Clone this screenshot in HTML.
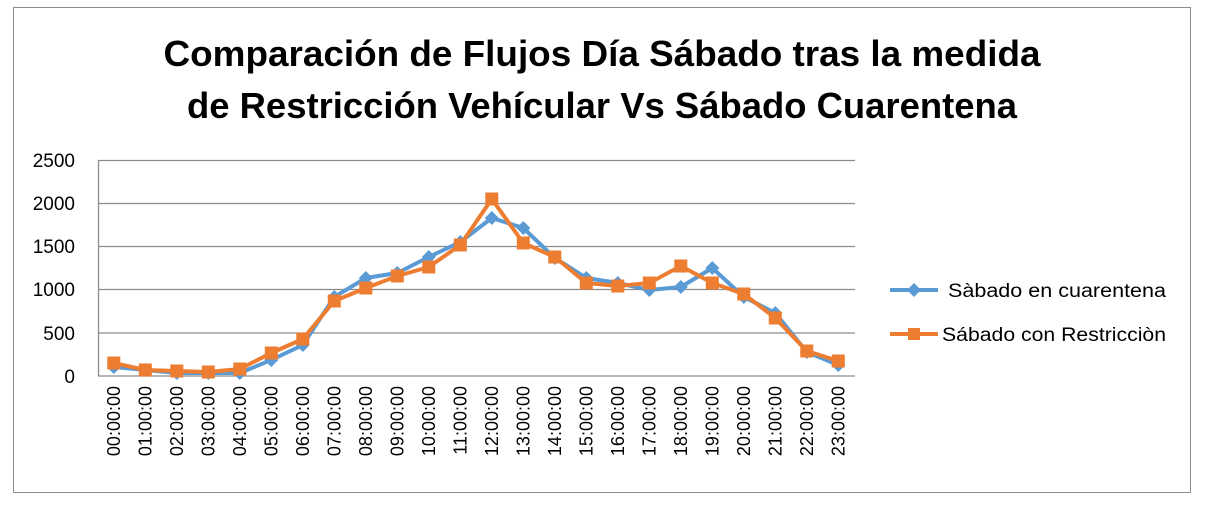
<!DOCTYPE html>
<html><head><meta charset="utf-8"><style>body{margin:0;background:#fff}svg{display:block}</style></head><body>
<svg width="1210" height="508" xmlns="http://www.w3.org/2000/svg" font-family="Liberation Sans, sans-serif">
<rect x="13.5" y="7.5" width="1177" height="485" fill="#fff" stroke="#8c8c8c" stroke-width="1"/>
<g font-weight="bold" font-size="36" text-anchor="middle" fill="#000">
<text x="602" y="66" textLength="877" lengthAdjust="spacingAndGlyphs">Comparación de Flujos Día Sábado tras la medida</text>
<text x="602" y="118" textLength="830" lengthAdjust="spacingAndGlyphs">de Restricción Vehícular Vs Sábado Cuarentena</text>
</g>
<g stroke="#8c8c8c" stroke-width="1.3">
<line x1="98" y1="160.5" x2="855" y2="160.5"/><line x1="98" y1="203.5" x2="855" y2="203.5"/>
<line x1="98" y1="246.5" x2="855" y2="246.5"/><line x1="98" y1="289.5" x2="855" y2="289.5"/>
<line x1="98" y1="333" x2="855" y2="333"/><line x1="98" y1="376" x2="855" y2="376"/>
<line x1="98.5" y1="160" x2="98.5" y2="376"/>
</g>
<g font-size="19" text-anchor="end" fill="#000">
<text x="75" y="167">2500</text><text x="75" y="210">2000</text><text x="75" y="253">1500</text>
<text x="75" y="296">1000</text><text x="75" y="340">500</text><text x="75" y="383">0</text>
</g>
<g id="xl" font-size="18" text-anchor="end" fill="#000"></g>
<polyline id="b" fill="none" stroke="#5b9bd5" stroke-width="4" stroke-linejoin="round"/>
<g id="bm" fill="#5b9bd5"></g>
<polyline id="o" fill="none" stroke="#ed7d31" stroke-width="4" stroke-linejoin="round"/>
<g id="om" fill="#ed7d31"></g>
<line x1="890" y1="290" x2="938" y2="290" stroke="#5b9bd5" stroke-width="4"/>
<polygon points="914,283 921,290 914,297 907,290" fill="#5b9bd5"/>
<text x="948" y="297" font-size="19" fill="#000" textLength="218" lengthAdjust="spacingAndGlyphs">Sàbado en cuarentena</text>
<line x1="890" y1="334" x2="938" y2="334" stroke="#ed7d31" stroke-width="4"/>
<rect x="908" y="328" width="12" height="12" fill="#ed7d31"/>
<text x="942" y="341" font-size="19" fill="#000" textLength="224" lengthAdjust="spacingAndGlyphs">Sábado con Restricciòn</text>
<script>
var B=[367,370,373,373,373,360,345,297,278,273,257,242,218,228,258,278,283,290,287,268,297,313,352,365];
var O=[363,370,371,372,369,353,339,301,288,276,267,245,199,243,257,283,286,283,266,283,294,318,351,361];
var ns="http://www.w3.org/2000/svg",pb=[],po=[],xl=document.getElementById('xl');
for(var i=0;i<24;i++){var x=113.8+i*31.5;pb.push(x+","+B[i]);po.push(x+","+O[i]);
var d=document.createElementNS(ns,'polygon');d.setAttribute('points',x+","+(B[i]-7)+" "+(x+7)+","+B[i]+" "+x+","+(B[i]+7)+" "+(x-7)+","+B[i]);document.getElementById('bm').appendChild(d);
var r=document.createElementNS(ns,'rect');r.setAttribute('x',x-6.5);r.setAttribute('y',O[i]-6.5);r.setAttribute('width',13);r.setAttribute('height',13);document.getElementById('om').appendChild(r);
var t=document.createElementNS(ns,'text');t.setAttribute('transform','translate('+(x+6)+',386) rotate(-90)');t.textContent=(i<10?'0':'')+i+':00:00';xl.appendChild(t);}
document.getElementById('b').setAttribute('points',pb.join(' '));
document.getElementById('o').setAttribute('points',po.join(' '));
</script>
</svg>
</body></html>
